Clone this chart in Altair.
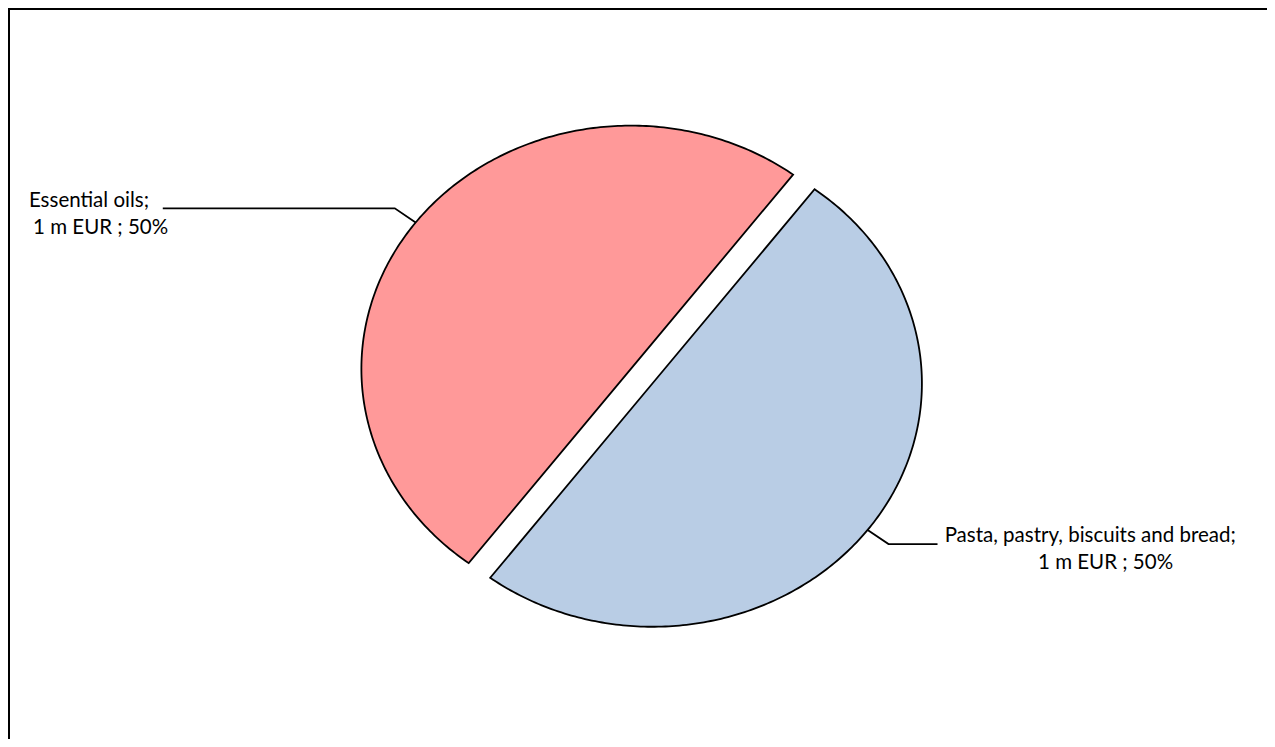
import altair as alt
import pandas as pd

# ---- data -------------------------------------------------------------
categories = ["Pasta, pastry, biscuits and bread", "Essential oils"]
values = [1, 1]                      # m EUR
unit = "m EUR"
colors = ["#B9CDE5", "#FF9999"]

# ---- layout -----------------------------------------------------------
W, H = 1259, 731
CX, CY = 633.65, 368.2      # pie centre in plot px
RX, RY = 269.5, 243.25      # pie radii in px (pie drawn as ellipse)
START_DEG = 37              # first slice angle, clockwise from 12 o'clock
EXPLODE = 0.05              # slice explosion (radius units)
ELBOW = 1.097               # leader-line elbow radius
N = 240                     # arc resolution

x_dom = [-CX / RX, (W - CX) / RX]
y_dom = [(CY - H) / RY, CY / RY]
xs = alt.Scale(domain=x_dom, nice=False, zero=False)
ys = alt.Scale(domain=y_dom, nice=False, zero=False)

df = pd.DataFrame({"category": categories, "value": values,
                   "idx": list(range(len(categories)))})

base = (
    alt.Chart(df)
    .transform_joinaggregate(total="sum(value)")
    .transform_window(cum="sum(value)", sort=[alt.SortField("idx")], frame=[None, 0])
    .transform_calculate(a0=f"(datum.cum - datum.value) / datum.total * 2 * PI + {START_DEG} * PI / 180")
    .transform_calculate(a1=f"datum.cum / datum.total * 2 * PI + {START_DEG} * PI / 180")
    .transform_calculate(am="(datum.a0 + datum.a1) / 2")
    .transform_calculate(pct="datum.value / datum.total")
    .transform_calculate(ex=f"{EXPLODE} * sin(datum.am)")
    .transform_calculate(ey=f"{EXPLODE} * cos(datum.am)")
    .transform_calculate(left="sin(datum.am) < 0")
)

# ---- slices -------------------------------------------------------------
pie = (
    base.transform_calculate(k=f"sequence(0, {N + 3})")
    .transform_flatten(["k"])
    .transform_calculate(t=f"(datum.k - 1) / {N}")
    .transform_calculate(ang="datum.a0 + datum.t * (datum.a1 - datum.a0)")
    .transform_calculate(edge=f"(datum.k >= 1 && datum.k <= {N + 1}) ? 1 : 0")
    .transform_calculate(px="datum.ex + datum.edge * sin(datum.ang)")
    .transform_calculate(py="datum.ey + datum.edge * cos(datum.ang)")
    .mark_line(stroke="black", strokeWidth=1.8, strokeJoin="miter")
    .encode(
        x=alt.X("px:Q", scale=xs, axis=None),
        y=alt.Y("py:Q", scale=ys, axis=None),
        fill=alt.Fill("category:N", scale=alt.Scale(domain=categories, range=colors), legend=None),
        detail="category:N",
        order="k:Q",
    )
)

# ---- leader lines -------------------------------------------------------------
LEG_LEFT, LEG_RIGHT = 232 / RX, 49 / RX   # horizontal leg lengths
leader = (
    base.transform_calculate(k="sequence(0, 3)")
    .transform_flatten(["k"])
    .transform_calculate(r=f"datum.k == 0 ? 1 : {ELBOW}")
    .transform_calculate(ex0="datum.ex + datum.r * sin(datum.am)")
    .transform_calculate(ly="datum.ey + datum.r * cos(datum.am)")
    .transform_calculate(
        lx=f"datum.k < 2 ? datum.ex0 : (datum.left ? datum.ex0 - {LEG_LEFT} : datum.ex0 + {LEG_RIGHT})"
    )
    .mark_line(color="black", strokeWidth=1.8)
    .encode(
        x=alt.X("lx:Q", scale=xs, axis=None),
        y=alt.Y("ly:Q", scale=ys, axis=None),
        detail="category:N",
        order="k:Q",
    )
)

# ---- labels -------------------------------------------------------------
# centre offsets of the two label lines from the leg end (px)
L_DX = [-73.8 / RX, -62.2 / RX]
R_DX = [152.7 / RX, 168.0 / RX]
L_DY = [1.4 / RY, -26.1 / RY]
R_DY = [2.0 / RY, -25.0 / RY]
labels = (
    base.transform_calculate(j="sequence(0, 2)")
    .transform_flatten(["j"])
    .transform_calculate(
        ex0=f"datum.left ? datum.ex + {ELBOW} * sin(datum.am) - {LEG_LEFT} : datum.ex + {ELBOW} * sin(datum.am) + {LEG_RIGHT}"
    )
    .transform_calculate(ey0=f"datum.ey + {ELBOW} * cos(datum.am)")
    .transform_calculate(
        tx=f"datum.ex0 + (datum.left ? (datum.j == 0 ? {L_DX[0]} : {L_DX[1]}) : (datum.j == 0 ? {R_DX[0]} : {R_DX[1]}))"
    )
    .transform_calculate(
        ty=f"datum.ey0 + (datum.left ? (datum.j == 0 ? {L_DY[0]} : {L_DY[1]}) : (datum.j == 0 ? {R_DY[0]} : {R_DY[1]}))"
    )
    .transform_calculate(
        label=f"datum.j == 0 ? datum.category + ';' : format(datum.value, 'd') + ' {unit} ; ' + format(datum.pct, '.0%')"
    )
    .mark_text(align="center", baseline="alphabetic", font="Lato", fontSize=20.5, color="black")
    .encode(
        x=alt.X("tx:Q", scale=xs, axis=None),
        y=alt.Y("ty:Q", scale=ys, axis=None),
        text="label:N",
    )
)

# ---- frame -------------------------------------------------------------
frame_src = alt.Chart(alt.Data(values=[{"f": 1}]))
left_edge = frame_src.mark_rule(color="black", strokeWidth=2).encode(
    x=alt.value(1), y=alt.value(0), y2=alt.value(H))
top_edge = frame_src.mark_rule(color="black", strokeWidth=2).encode(
    x=alt.value(0), x2=alt.value(W), y=alt.value(1))

chart = (
    alt.layer(pie, leader, labels, left_edge, top_edge)
    .properties(width=W, height=H, padding=0, autosize="none", background="white")
    .configure_view(stroke=None)
)

chart.save("out.html", embed_options={"renderer": "svg", "actions": False})
